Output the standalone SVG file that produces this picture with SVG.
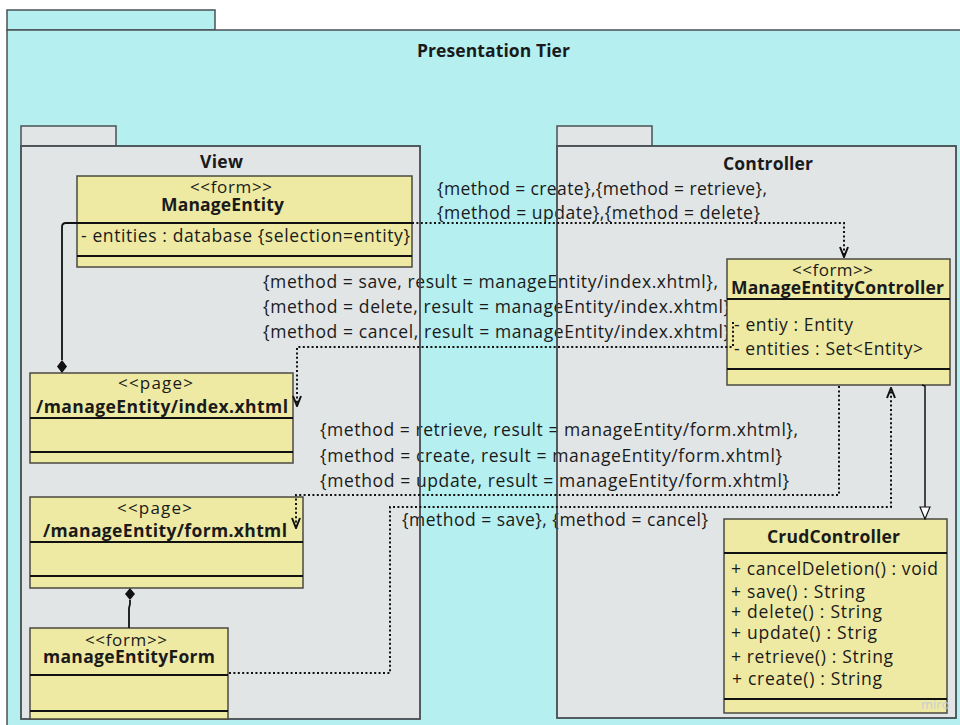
<svg xmlns="http://www.w3.org/2000/svg" width="960" height="725" viewBox="0 0 960 725">
  <style>
    .pkg-outer { fill: #b5eff0; stroke: #4a5256; stroke-width: 1.5; }
    .pkg { fill: #e1e5e6; stroke: #4a5256; stroke-width: 1.5; }
    .frame { fill: none; stroke: #4a5256; stroke-width: 1.5; }
    .cls { fill: #eeeaa3; stroke: #4a4a40; stroke-width: 1.5; }
    .div { stroke: #111; stroke-width: 2; }
    text { font-family: "Open Sans", "Noto Sans", "DejaVu Sans", sans-serif; fill: #1a1a1a; }
    .t { font-size: 17.5px; }
    .st { font-size: 17px; }
    .nm { font-size: 17.5px; font-weight: bold; }
    .dot { fill: none; stroke: #111; stroke-width: 2; stroke-dasharray: 2 2.4; }
    .solid { fill: none; stroke: #111; stroke-width: 1.8; }
  </style>
  <defs>
    <marker id="open" viewBox="0 0 12 10" refX="11" refY="5" markerWidth="12" markerHeight="10" markerUnits="userSpaceOnUse" orient="auto">
      <path d="M1 1 L11 5 L1 9" fill="none" stroke="#111" stroke-width="2"/>
    </marker>
    <marker id="tri" viewBox="0 0 14 12" refX="13" refY="6" markerWidth="14" markerHeight="12" markerUnits="userSpaceOnUse" orient="auto">
      <path d="M1 1 L13 6 L1 11 Z" fill="#fff" stroke="#111" stroke-width="1.2"/>
    </marker>
  </defs>

  <!-- Presentation Tier package -->
  <g id="presentation-tier">
    <rect class="pkg-outer" x="7" y="10" width="208" height="20"/>
    <rect class="pkg-outer" x="7" y="30" width="970" height="710"/>
    <text class="nm" x="417" y="57" textLength="153" lengthAdjust="spacing">Presentation Tier</text>
  </g>

  <!-- View package -->
  <g id="view">
    <rect class="pkg" x="21" y="126" width="95" height="20"/>
    <rect class="pkg" x="21" y="146" width="399" height="573"/>
    <text class="nm" x="200" y="168" textLength="43" lengthAdjust="spacing">View</text>
  </g>

  <!-- Controller package -->
  <g id="controller">
    <rect class="pkg" x="557" y="126" width="95" height="20"/>
    <rect class="pkg" x="557" y="146" width="399" height="572"/>
    <text class="nm" x="723" y="170" textLength="90" lengthAdjust="spacing">Controller</text>
  </g>

  <!-- guard labels of the navigation connectors -->
  <g id="connector-labels">
    <text class="t" x="437" y="195" textLength="330" lengthAdjust="spacing">{method = create},{method = retrieve},</text>
    <text class="t" x="437" y="219" textLength="323" lengthAdjust="spacing">{method = update},{method = delete}</text>
    <text class="t" x="263" y="288" textLength="455" lengthAdjust="spacing">{method = save, result = manageEntity/index.xhtml},</text>
    <text class="t" x="263" y="313" textLength="467" lengthAdjust="spacing">{method = delete, result = manageEntity/index.xhtml}</text>
    <text class="t" x="263" y="338" textLength="467" lengthAdjust="spacing">{method = cancel, result = manageEntity/index.xhtml}</text>
    <text class="t" x="320" y="436" textLength="478" lengthAdjust="spacing">{method = retrieve, result = manageEntity/form.xhtml},</text>
    <text class="t" x="320" y="462" textLength="462" lengthAdjust="spacing">{method = create, result = manageEntity/form.xhtml}</text>
    <text class="t" x="320" y="487" textLength="469" lengthAdjust="spacing">{method = update, result = manageEntity/form.xhtml}</text>
    <text class="t" x="402" y="526" textLength="306" lengthAdjust="spacing">{method = save}, {method = cancel}</text>
  </g>

  <!-- package outlines kept above the guard labels -->
  <g id="package-frames">
    <rect class="frame" x="21" y="146" width="399" height="573"/>
    <rect class="frame" x="557" y="146" width="399" height="572"/>
  </g>

  <!-- ManageEntity form -->
  <g id="manage-entity">
    <rect class="cls" x="77" y="176" width="335" height="91"/>
    <line class="div" x1="77" y1="223" x2="412" y2="223"/>
    <line class="div" x1="77" y1="256" x2="412" y2="256"/>
    <text class="st" x="190" y="193" textLength="82" lengthAdjust="spacing">&lt;&lt;form&gt;&gt;</text>
    <text class="nm" x="161" y="211" textLength="123" lengthAdjust="spacing">ManageEntity</text>
    <text class="t" x="81" y="242" textLength="329" lengthAdjust="spacing">- entities : database {selection=entity}</text>
  </g>

  <!-- ManageEntityController -->
  <g id="manage-entity-controller">
    <rect class="cls" x="727" y="259" width="223" height="126"/>
    <line class="div" x1="727" y1="299" x2="950" y2="299"/>
    <line class="div" x1="727" y1="369" x2="950" y2="369"/>
    <text class="st" x="792" y="276" textLength="81" lengthAdjust="spacing">&lt;&lt;form&gt;&gt;</text>
    <text class="nm" x="731" y="294" textLength="213" lengthAdjust="spacing">ManageEntityController</text>
    <text class="t" x="734" y="331" textLength="119" lengthAdjust="spacing">- entiy : Entity</text>
    <text class="t" x="734" y="355" textLength="189" lengthAdjust="spacing">- entities : Set&lt;Entity&gt;</text>
  </g>

  <!-- index page -->
  <g id="index-page">
    <rect class="cls" x="30" y="373" width="263" height="90"/>
    <line class="div" x1="30" y1="418" x2="293" y2="418"/>
    <line class="div" x1="30" y1="452" x2="293" y2="452"/>
    <text class="st" x="118" y="389" textLength="75" lengthAdjust="spacing">&lt;&lt;page&gt;</text>
    <text class="nm" x="36" y="413" textLength="252" lengthAdjust="spacing">/manageEntity/index.xhtml</text>
  </g>

  <!-- form page -->
  <g id="form-page">
    <rect class="cls" x="30" y="497" width="273" height="91"/>
    <line class="div" x1="30" y1="542" x2="303" y2="542"/>
    <line class="div" x1="30" y1="576" x2="303" y2="576"/>
    <text class="st" x="117" y="514" textLength="75" lengthAdjust="spacing">&lt;&lt;page&gt;</text>
    <text class="nm" x="43" y="537" textLength="244" lengthAdjust="spacing">/manageEntity/form.xhtml</text>
  </g>

  <!-- manageEntityForm -->
  <g id="manage-entity-form">
    <rect class="cls" x="30" y="628" width="198" height="91"/>
    <line class="div" x1="30" y1="675" x2="228" y2="675"/>
    <line class="div" x1="30" y1="711" x2="228" y2="711"/>
    <text class="st" x="85" y="646" textLength="82" lengthAdjust="spacing">&lt;&lt;form&gt;&gt;</text>
    <text class="nm" x="43" y="663" textLength="172" lengthAdjust="spacing">manageEntityForm</text>
  </g>

  <!-- CrudController -->
  <g id="crud-controller">
    <rect class="cls" x="724" y="519" width="223" height="194"/>
    <line class="div" x1="724" y1="553" x2="947" y2="553"/>
    <line class="div" x1="724" y1="699" x2="947" y2="699"/>
    <text class="nm" x="767" y="543" textLength="133" lengthAdjust="spacing">CrudController</text>
    <text class="t" x="731" y="575" textLength="207" lengthAdjust="spacing">+ cancelDeletion() : void</text>
    <text class="t" x="731" y="598" textLength="134" lengthAdjust="spacing">+ save() : String</text>
    <text class="t" x="731" y="618" textLength="151" lengthAdjust="spacing">+ delete() : String</text>
    <text class="t" x="731" y="639" textLength="146" lengthAdjust="spacing">+ update() : Strig</text>
    <text class="t" x="731" y="663" textLength="162" lengthAdjust="spacing">+ retrieve() : String</text>
    <text class="t" x="732" y="685" textLength="150" lengthAdjust="spacing">+ create() : String</text>
  </g>

  <!-- Connectors -->
  <g id="connectors">
    <!-- composition: ManageEntity owns index page -->
    <path class="solid" d="M80 223 L66 223 Q62 223 62 227 L62 360"/>
    <path d="M62 360 L67 366.5 L62 373 L57 366.5 Z" fill="#111"/>
    <!-- composition: form page owns manageEntityForm -->
    <path class="solid" d="M129 628 L129 608 L130 604 L130 600"/>
    <path d="M130 588 L135 594 L130 600 L125 594 Z" fill="#111"/>
    <!-- ManageEntity to controller -->
    <path class="dot" d="M412 223 L844 223 L844 257" marker-end="url(#open)"/>
    <!-- controller to index page -->
    <path class="dot" d="M733 322 L733 347 L297 347 L297 406" marker-end="url(#open)"/>
    <!-- controller to form page -->
    <path class="dot" d="M839 386 L839 495 L296 495 L296 528" marker-end="url(#open)"/>
    <!-- manageEntityForm to controller -->
    <path class="dot" d="M229 673 L390 673 L390 507 L891 507 L891 388" marker-end="url(#open)"/>
    <!-- generalization to CrudController -->
    <path class="solid" d="M922 385 L925 386 L925 519" style="stroke-width:1.5" marker-end="url(#tri)"/>
  </g>

  <text x="921" y="709" style="font-size:13px;fill:#c9cfd0">miro</text>
</svg>
